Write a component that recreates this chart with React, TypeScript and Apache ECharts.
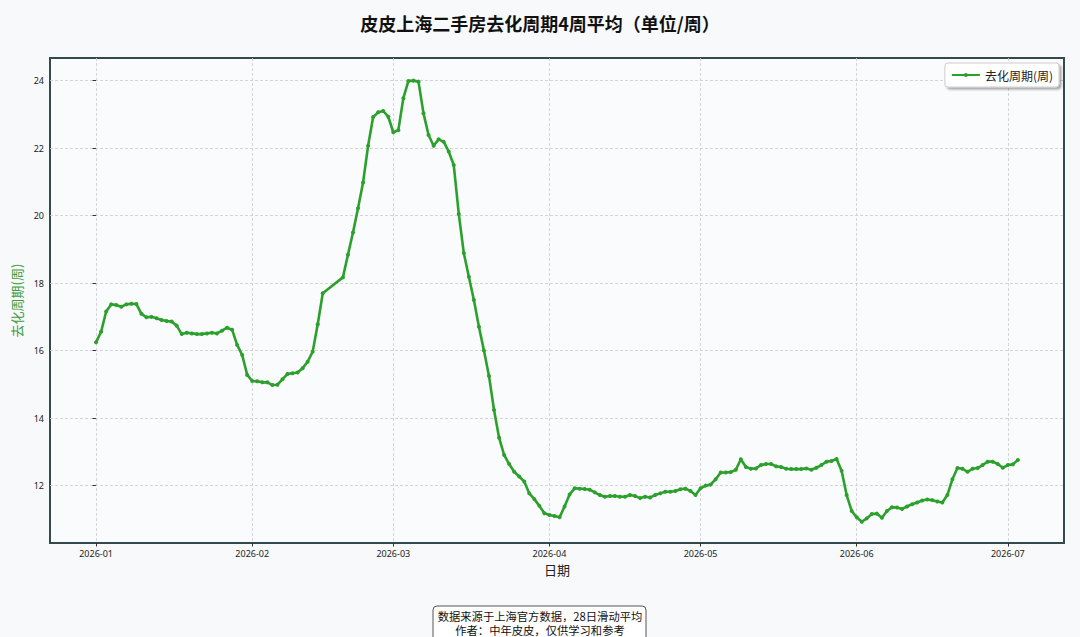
import React, { useEffect, useRef } from "react";
import * as echarts from "echarts";

const START_DATE = "2026-01-01";
const MONTH_TICKS = ["2026-01", "2026-02", "2026-03", "2026-04", "2026-05", "2026-06", "2026-07"];
const Y_TICKS = [12, 14, 16, 18, 20, 22, 24];
const SERIES_NAME = "去化周期(周)";

// Daily 28-day rolling average values starting 2026-01-01 (null = no data)
const VALUES: (number | null)[] = [
  16.25, 16.56, 17.16, 17.37, 17.35, 17.30, 17.37, 17.39, 17.38, 17.09,
  16.99, 17.00, 16.96, 16.91, 16.88, 16.86, 16.74, 16.49, 16.53, 16.51,
  16.49, 16.49, 16.51, 16.53, 16.51, 16.59, 16.68, 16.62, 16.17, 15.87,
  15.28, 15.10, 15.09, 15.06, 15.06, 14.98, 14.99, 15.15, 15.31, 15.33,
  15.35, 15.48, 15.67, 15.97, 16.78, 17.70, null, null, null, 18.17,
  18.84, 19.50, 20.22, 20.98, 22.07, 22.92, 23.06, 23.10, 22.93, 22.47,
  22.53, 23.48, 23.99, 24.00, 23.97, 23.03, 22.39, 22.07, 22.26, 22.19,
  21.90, 21.50, 20.05, 18.89, 18.19, 17.50, 16.71, 16.00, 15.25, 14.24,
  13.42, 12.91, 12.64, 12.41, 12.27, 12.12, 11.77, 11.60, 11.40, 11.18,
  11.13, 11.10, 11.06, 11.38, 11.74, 11.92, 11.91, 11.90, 11.88, 11.80,
  11.72, 11.67, 11.69, 11.69, 11.67, 11.67, 11.72, 11.69, 11.63, 11.67,
  11.65, 11.72, 11.77, 11.82, 11.82, 11.84, 11.89, 11.91, 11.84, 11.72,
  11.92, 12.00, 12.03, 12.19, 12.39, 12.39, 12.40, 12.47, 12.78, 12.55,
  12.50, 12.51, 12.61, 12.64, 12.64, 12.57, 12.55, 12.50, 12.49, 12.49,
  12.49, 12.51, 12.47, 12.53, 12.61, 12.71, 12.73, 12.79, 12.44, 11.72,
  11.25, 11.06, 10.93, 11.03, 11.16, 11.17, 11.05, 11.25, 11.36, 11.35,
  11.31, 11.38, 11.45, 11.50, 11.56, 11.59, 11.57, 11.53, 11.50, 11.72,
  12.19, 12.52, 12.50, 12.41, 12.50, 12.52, 12.61, 12.71, 12.71, 12.64,
  12.53, 12.61, 12.63, 12.76,
];

const FOOTER_LINES = ["数据来源于上海官方数据，28日滑动平均", "作者：中年皮皮，仅供学习和参考"];

const DAY_MS = 86400000;
const startMs = Date.parse(START_DATE + "T00:00:00Z");
const dayOffset = (ym: string) => Math.round((Date.parse(ym + "-01T00:00:00Z") - startMs) / DAY_MS);

export default function App() {
  const ref = useRef<HTMLDivElement>(null);
  useEffect(() => {
    if (!ref.current) return;
    const chart = echarts.init(ref.current, undefined, { renderer: "svg" });
    const tickOffsets = MONTH_TICKS.map(dayOffset);
    const data = VALUES.map((v, i) => (v == null ? null : [i, v])).filter((d) => d !== null) as number[][];
    const span = VALUES.length - 1;
    const pad = span * 0.05;
    const CJK = "'Noto Sans CJK SC', 'Noto Sans', sans-serif";
    const NUM = "'Noto Sans', 'DejaVu Sans', sans-serif";
    const green = "#2ca02c";
    chart.setOption({
      animation: false,
      backgroundColor: "#f7f9fa",
      title: {
        text: "皮皮上海二手房去化周期4周平均（单位/周）",
        left: "center",
        top: 14,
        padding: 0,
        textStyle: { fontFamily: CJK, fontSize: 18, fontWeight: "bold", color: "#111" },
      },
      legend: {
        data: [SERIES_NAME],
        right: 21,
        top: 63,
        padding: [6, 6, 6, 6],
        itemWidth: 28,
        itemHeight: 5,
        itemGap: 6,
        backgroundColor: "#ffffff",
        borderColor: "#cccccc",
        borderWidth: 1,
        borderRadius: 3,
        shadowColor: "rgba(0,0,0,0.35)",
        shadowBlur: 2,
        shadowOffsetX: 2,
        shadowOffsetY: 2,
        textStyle: { fontFamily: CJK, fontSize: 12, color: "#222" },
      },
      grid: {
        left: 50,
        top: 58,
        right: 16,
        bottom: 94,
        show: true,
        backgroundColor: "#f9fbfc",
        borderColor: "#34494a",
        borderWidth: 2,
      },
      xAxis: {
        type: "value",
        min: -pad,
        max: span + pad,
        name: "日期",
        nameLocation: "middle",
        nameGap: 13,
        nameTextStyle: { fontFamily: CJK, fontSize: 13, color: "#222" },
        axisLine: { show: false },
        axisTick: { show: true, length: 3.5, lineStyle: { color: "#333" }, customValues: tickOffsets },
        axisLabel: {
          customValues: tickOffsets,
          margin: 6,
          fontFamily: NUM,
          fontSize: 9,
          color: "#222",
          formatter: (v: number) => {
            const idx = tickOffsets.indexOf(Math.round(v));
            return idx >= 0 ? MONTH_TICKS[idx] : "";
          },
        },
        splitLine: { show: true, lineStyle: { color: "#cccccc", type: [3, 2], width: 0.8 } },
      },
      yAxis: {
        type: "value",
        min: 10.3,
        max: 24.67,
        name: SERIES_NAME,
        nameLocation: "middle",
        nameGap: 21,
        nameTextStyle: { fontFamily: CJK, fontSize: 13, color: "#3d9c3d" },
        axisLine: { show: false },
        axisTick: { show: true, length: 3.5, lineStyle: { color: "#333" }, customValues: Y_TICKS },
        axisLabel: { customValues: Y_TICKS, margin: 6, fontFamily: NUM, fontSize: 9, color: "#222" },
        splitLine: { show: true, lineStyle: { color: "#cccccc", type: [3, 2], width: 0.8 } },
      },
      series: [
        {
          name: SERIES_NAME,
          type: "line",
          data,
          symbol: "circle",
          symbolSize: 4,
          showSymbol: true,
          lineStyle: { color: green, width: 2.6 },
          itemStyle: { color: green },
        },
      ],
      graphic: [
        {
          type: "rect",
          shape: { x: 433, y: 606, width: 213, height: 40, r: 4 },
          style: { fill: "#ffffff", stroke: "#555555", lineWidth: 1 },
        },
        {
          type: "text",
          x: 540,
          y: 616,
          style: {
            text: FOOTER_LINES[0],
            align: "center",
            verticalAlign: "middle",
            fontFamily: CJK,
            fontSize: 11.3,
            fill: "#111",
          },
        },
        {
          type: "text",
          x: 540,
          y: 630,
          style: {
            text: FOOTER_LINES[1],
            align: "center",
            verticalAlign: "middle",
            fontFamily: CJK,
            fontSize: 11.3,
            fill: "#111",
          },
        },
      ],
    });
    return () => chart.dispose();
  }, []);
  return (
    <div
      ref={ref}
      style={{ position: "absolute", left: 0, top: 0, width: 1080, height: 637 }}
    />
  );
}
